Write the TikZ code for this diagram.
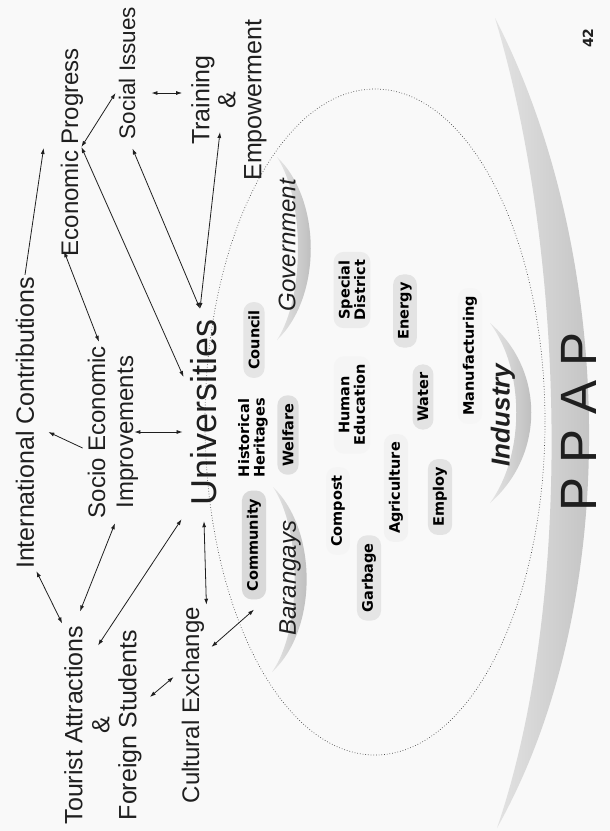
\documentclass[tikz,border=0pt]{standalone}
\usepackage{fontspec}
\setmainfont{Liberation Sans}
\newfontfamily\lblfont{DejaVu Sans}
\usetikzlibrary{arrows.meta}
\definecolor{bgcol}{gray}{0.975}
\definecolor{ink}{gray}{0.12}

\begin{document}
\begin{tikzpicture}[x=1pt, y=-1pt,
    >={Latex[length=6pt,width=4pt]},
    txt/.style={rotate=90, align=center, inner sep=2pt, text=ink,
                font={\fontsize{25}{27}\selectfont}},
    tagtext/.style={rotate=90, align=center, inner xsep=8pt, inner ysep=5pt,
                text=black, font={\lblfont\bfseries\fontsize{14.5}{15.5}\selectfont}},
    tag/.style={tagtext, fill=gray!#1, rounded corners=10pt},
    tag/.default=22,
    sector/.style={rotate=90, inner sep=2pt, text=ink,
                font={\itshape\fontsize{24}{26}\selectfont}},
    link/.style={<->, line width=0.8pt, draw=ink},
    crescent/.style={left color=gray!20, right color=gray!60, draw=none}
  ]
  \fill[bgcol] (0,0) rectangle (610,831);
  \useasboundingbox (0,0) rectangle (610,831);

  % outer PPAP band and the dotted ring
  \shade[left color=gray!22, right color=gray!55]
    (495,18) .. controls (615,250) and (625,600) .. (497,828)
    .. controls (575,600) and (565,250) .. (495,18) -- cycle;
  \draw[dotted, line width=0.7pt, ink!80] (375,422) ellipse [x radius=170pt, y radius=333pt];

  % sector arcs
  \shade[crescent] (273,487) .. controls (318,530) and (318,630) .. (272,672)
    .. controls (302,630) and (302,530) .. (273,487) -- cycle;
  \shade[crescent] (277,157) .. controls (322,200) and (322,297) .. (277,340)
    .. controls (305,297) and (305,200) .. (277,157) -- cycle;
  \shade[crescent] (490,323) .. controls (545,370) and (545,455) .. (490,503)
    .. controls (525,455) and (525,370) .. (490,323) -- cycle;

  % outer ring of ideas
  \node[txt] (intl) at (25,423) {International Contributions};
  \node[txt, font={\fontsize{24}{26}\selectfont}] (econ) at (72,152) {Economic Progress};
  \node[txt, font={\fontsize{22.5}{24}\selectfont}] (social) at (127,73) {Social Issues};
  \node[txt, font={\fontsize{25}{26}\selectfont}] (train) at (229,100) {Training\\\&\\Empowerment};
  \node[txt, font={\fontsize{24}{28}\selectfont}] (socio) at (113,432) {Socio Economic\\Improvements};
  \node[txt, font={\fontsize{36}{40}\selectfont}] (univ) at (204,412) {Universities};
  \node[txt] (tour) at (103,725) {Tourist Attractions\\\&\\Foreign Students};
  \node[txt, font={\fontsize{24}{26}\selectfont}] (cult) at (193,705) {Cultural Exchange};

  % sectors
  \node[sector] (gov) at (287,245) {Government};
  \node[sector] (bar) at (290,578) {Barangays};
  \node[sector, font={\bfseries\itshape\fontsize{26}{28}\selectfont}] (ind) at (503,415) {Industry};

  % inside the ring
  \node[tag=20] (council) at (254,340) {Council};
  \node[tagtext] (hist) at (253,438) {Historical\\Heritages};
  \node[tag=25] (welfare) at (288,435) {Welfare};
  \node[tag=30] (comm) at (254,545) {Community};
  \node[tag=8] (compost) at (338,511) {Compost};
  \node[tag=20] (garbage) at (369,578) {Garbage};
  \node[tag=10] (agri) at (396,488) {Agriculture};
  \node[tag=22] (employ) at (440,497) {Employ};
  \node[tag=8] (human) at (352,405) {Human\\Education};
  \node[tag=22] (water) at (423,397) {Water};
  \node[tag=15] (special) at (352,290) {Special\\District};
  \node[tag=22] (energy) at (405,311) {Energy};
  \node[tag=7] (manuf) at (470,356) {Manufacturing};

  \node[txt, font={\fontsize{51}{53}\selectfont}] (ppap) at (579,422) {P P A P};
  \node[txt, font={\lblfont\bfseries\fontsize{14}{15}\selectfont}] (page) at (588,38) {42};

  % links
  \draw[link] (intl.south west) -- (tour.north east);
  \draw[->, line width=0.8pt, ink] ([shift={(-3,16)}]socio.north) -- ([shift={(12,9)}]intl.south);
  \draw[link] ([shift={(2,3)}]socio.west) -- ([shift={(-23,-12)}]tour.east);
  \draw[link] ([shift={(-7,12)}]univ.north west) -- ([shift={(-5,22)}]tour.east);
  \draw[link] ([xshift=-6pt]socio.south) -- ([shift={(-6,20)}]univ.north);
  \draw[link] ([shift={(6,-28)}]tour.south) -- ([shift={(-6,-28)}]cult.north);
  \draw[link] (cult.south east) -- ([shift={(0,14)}]univ.west);
  \draw[link] ([shift={(5,-58)}]cult.south) -- ([yshift=-10pt]comm.west);
  \draw[link] ([shift={(-5,-35)}]univ.north) -- ([shift={(-4,-5)}]econ.south);
  \draw[link] ([shift={(-4,-5)}]econ.south) -- ([shift={(-1,20)}]social.north);
  \draw[link] ([shift={(-14,-2)}]socio.east) -- ([shift={(-8,-7)}]econ.west);
  \draw[->, line width=0.8pt, ink] (intl.east) -- ([shift={(-15,-4)}]econ.north);
  \draw[link] ([shift={(-4,-8)}]univ.east) -- ([shift={(-5,7)}]social.south west);
  \draw[link] ([shift={(-4,-8)}]univ.east) -- ([shift={(-9,32)}]train.center);
  \draw[link] ([shift={(14,20)}]social.south) -- ([shift={(-7,-7)}]train.north);
\end{tikzpicture}
\end{document}
